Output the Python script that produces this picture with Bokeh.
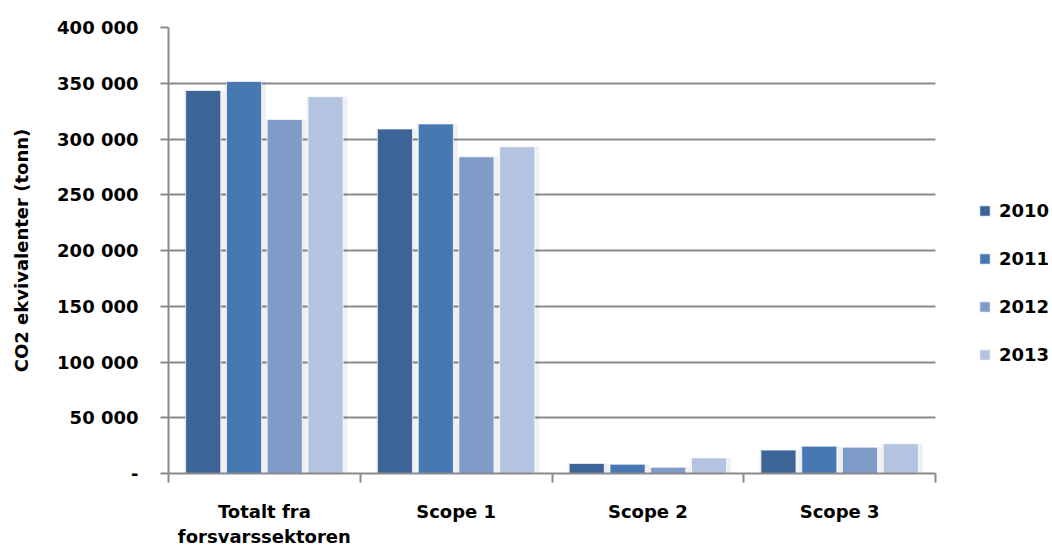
import numpy as np
from bokeh.plotting import figure
from bokeh.models import ColumnDataSource, FixedTicker, Legend, LegendItem, Range1d
from bokeh.transform import dodge
from bokeh.embed import file_html
from bokeh.resources import INLINE

categories = ["Totalt fra\nforsvarssektoren", "Scope 1", "Scope 2", "Scope 3"]
years = ["2010", "2011", "2012", "2013"]
v2010 = [343500, 309000, 9000, 21000]
v2011 = [351500, 313500, 8300, 24500]
v2012 = [317500, 284000, 5700, 23600]
v2013 = [338000, 293000, 14000, 26600]
y_ticks = [0, 50000, 100000, 150000, 200000, 250000, 300000, 350000, 400000]
y_tick_labels = ["-", "50 000", "100 000", "150 000", "200 000", "250 000", "300 000", "350 000", "400 000"]
colors = ["#3C6496", "#4878B2", "#7F9CC8", "#B4C3E0"]

FONT = "DejaVu Sans"
GRID = "#8A8A8A"
n = len(categories)

xc = [i + 0.5 for i in range(n)]
src = ColumnDataSource(dict(xc=xc, y2010=v2010, y2011=v2011, y2012=v2012, y2013=v2013))

# frame extends to the right edge so the legend (drawn inside the frame) is visible
x_end = n * (1052 - 168) / 767
p = figure(width=1052, height=550, output_backend="svg", toolbar_location=None,
           x_range=Range1d(0, x_end), y_range=Range1d(0, 400000),
           min_border_left=168, min_border_right=0, min_border_top=27, min_border_bottom=77)
p.outline_line_color = None
p.background_fill_color = "white"
p.border_fill_color = "white"

bar_w = 0.183
offsets = [-0.319, -0.106, 0.106, 0.319]
fields = ["y2010", "y2011", "y2012", "y2013"]
items = []
for f, off in zip(fields, offsets):
    p.vbar(x=dodge("xc", off + 0.008, range=p.x_range), top=f, bottom=0, width=bar_w + 0.03,
           source=src, fill_color="#000000", fill_alpha=0.06, line_color=None)
for f, off, c, yr in zip(fields, offsets, colors, years):
    r = p.vbar(x=dodge("xc", off, range=p.x_range), top=f, bottom=0, width=bar_w,
               source=src, fill_color=c, line_color="white", line_alpha=0.7, line_width=1)
    items.append(LegendItem(label=yr, renderers=[r]))

# axes
p.xaxis.bounds = (0, n)
p.xaxis.ticker = FixedTicker(ticks=xc, minor_ticks=list(range(n + 1)))
p.xaxis.major_label_overrides = {x: c for x, c in zip(xc, categories)}
p.xaxis.major_tick_out = 0
p.xaxis.major_tick_in = 0
p.xaxis.minor_tick_out = 9
p.xaxis.minor_tick_in = 0
p.xaxis.minor_tick_line_color = GRID
p.xaxis.minor_tick_line_width = 2
p.xaxis.axis_line_color = GRID
p.xaxis.axis_line_width = 2
p.xaxis.major_label_standoff = 18
p.xaxis.major_label_text_font = FONT
p.xaxis.major_label_text_font_style = "bold"
p.xaxis.major_label_text_font_size = "18px"
p.xaxis.major_label_text_color = "black"

p.yaxis.ticker = FixedTicker(ticks=y_ticks)
p.yaxis.major_label_overrides = {t: l for t, l in zip(y_ticks, y_tick_labels)}
p.yaxis.minor_tick_line_color = None
p.yaxis.major_tick_out = 8
p.yaxis.major_tick_in = 0
p.yaxis.major_tick_line_color = GRID
p.yaxis.major_tick_line_width = 2
p.yaxis.axis_line_color = GRID
p.yaxis.axis_line_width = 2
p.yaxis.major_label_standoff = 22
p.yaxis.major_label_text_font = FONT
p.yaxis.major_label_text_font_style = "bold"
p.yaxis.major_label_text_font_size = "18px"
p.yaxis.major_label_text_color = "black"
p.yaxis.axis_label = "CO2 ekvivalenter (tonn)"
p.yaxis.axis_label_text_font = FONT
p.yaxis.axis_label_text_font_style = "bold"
p.yaxis.axis_label_text_font_size = "18px"
p.yaxis.axis_label_text_color = "black"
p.yaxis.axis_label_standoff = 22

p.xgrid.grid_line_color = None
p.ygrid.ticker = FixedTicker(ticks=y_ticks)
p.ygrid.cross_bounds = (0, n)
p.ygrid.grid_line_color = GRID
p.ygrid.grid_line_width = 2

legend = Legend(items=items, location=(810, 108), orientation="vertical",
                glyph_width=13, glyph_height=13, label_standoff=8, label_height=20,
                spacing=27, padding=0, margin=0, border_line_color=None,
                background_fill_alpha=0,
                label_text_font=FONT, label_text_font_style="bold",
                label_text_font_size="18px", label_text_color="black")
p.add_layout(legend, "center")

open("out.html", "w").write(file_html(p, INLINE))
